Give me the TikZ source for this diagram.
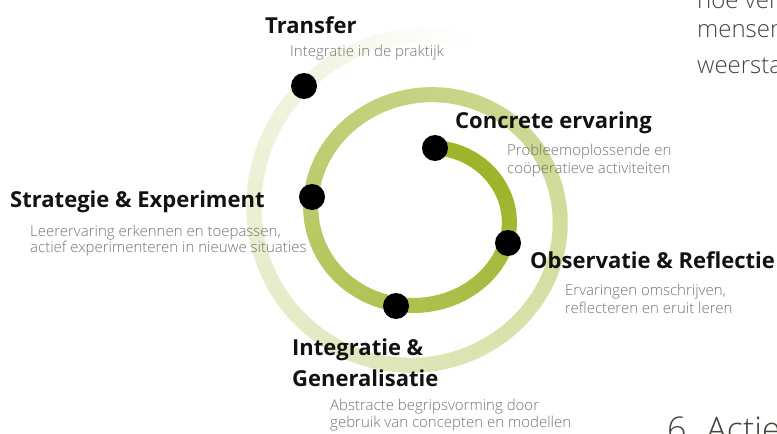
\documentclass[tikz,border=0pt]{standalone}
\usepackage{fontspec}
\setmainfont{Open Sans}
\IfFontExistsTF{Open Sans Light}
  {\newfontfamily\thinfont{Open Sans Light}}
  {\IfFontExistsTF{Lato Light}{\newfontfamily\thinfont{Lato Light}}{\newfontfamily\thinfont{Open Sans}}}
\definecolor{pagetext}{RGB}{74,66,60}
\definecolor{desctext}{RGB}{115,115,115}

% centre line of the spiral, angle measured clockwise from the top
\newcommand\spX[1]{425-0.0083*(#1)+(71.25+0.15*(#1))*sin(#1)}
\newcommand\spY[1]{215-(60+0.1667*(#1)+7*max(0,1-(#1)/120))*cos(#1)}

\begin{document}
\begin{tikzpicture}[x=1pt,y=-1pt,
  dot/.style={circle,fill=black,minimum size=26pt,inner sep=0pt},
  head/.style={anchor=base west,inner sep=0pt,text=black!93,
    font=\fontsize{22}{26}\selectfont\bfseries},
  desc/.style={anchor=base west,inner sep=0pt,text=desctext,
    font=\thinfont\fontsize{15}{18}\selectfont},
  pagetxt/.style={anchor=base west,inner sep=0pt,text=pagetext,
    font=\thinfont\fontsize{24}{28}\selectfont}]
\useasboundingbox (0,0) rectangle (777,434);

% spiral band, fading from olive to white towards its outer end
\foreach \t in {8,10,...,734}{
  \pgfmathsetmacro\s{min(1,max(0,(\t-60)/720))}
  \pgfmathsetmacro\s{min(1,\s+(1-\s)*max(0,(\t-690)/45))}
  \pgfmathsetmacro\u{\t+2.6}
  \pgfmathtruncatemacro\cr{157+98*\s}
  \pgfmathtruncatemacro\cg{181+74*\s}
  \pgfmathtruncatemacro\cb{42+213*\s}
  \definecolor{spc}{RGB}{\cr,\cg,\cb}
  \draw[spc,line width=15pt] ({\spX{\t}},{\spY{\t}}) -- ({\spX{\u}},{\spY{\u}});
}

% stage markers
\node[dot] (transfer) at (304,86) {};
\node[dot] (concrete) at (435,148) {};
\node[dot] (strategie) at (312,197) {};
\node[dot] (observatie) at (508,243) {};
\node[dot] (integratie) at (396,306) {};

% stage titles and descriptions
\node[head] (t-transfer) at (265,33) {Transfer};
\node[desc] (d-transfer) at (290,56) {Integratie in de praktijk};

\node[head] (t-concrete) at (455,128) {Concrete ervaring};
\node[desc] (d-concrete1) at (507,155) {Probleemoplossende en};
\node[desc] (d-concrete2) at (507,173) {coöperatieve activiteiten};

\node[head] (t-strategie) at (10,207) {Strategie \& Experiment};
\node[desc] (d-strategie1) at (30,236) {Leerervaring erkennen en toepassen,};
\node[desc] (d-strategie2) at (30,252) {actief experimenteren in nieuwe situaties};

\node[head] (t-observatie) at (530,268) {Observatie \& Reflectie};
\node[desc] (d-observatie1) at (565,295) {Ervaringen omschrijven,};
\node[desc] (d-observatie2) at (565,313) {reflecteren en eruit leren};

\node[head] (t-integratie1) at (292,355) {Integratie \&};
\node[head] (t-integratie2) at (292,386) {Generalisatie};
\node[desc] (d-integratie1) at (330,410) {Abstracte begripsvorming door};
\node[desc] (d-integratie2) at (330,427) {gebruik van concepten en modellen};

% surrounding page text
\begin{scope}
\clip (0,0) rectangle (777,434);
\node[pagetxt] (p1) at (697,8) {hoe ver};
\node[pagetxt] (p2) at (697,37) {mensen};
\node[pagetxt] (p3) at (697,73) {weerstand};
\node[pagetxt,font=\thinfont\fontsize{34}{40}\selectfont] (p4) at (667,441) {6. Actie};
\end{scope}
\end{tikzpicture}
\end{document}
